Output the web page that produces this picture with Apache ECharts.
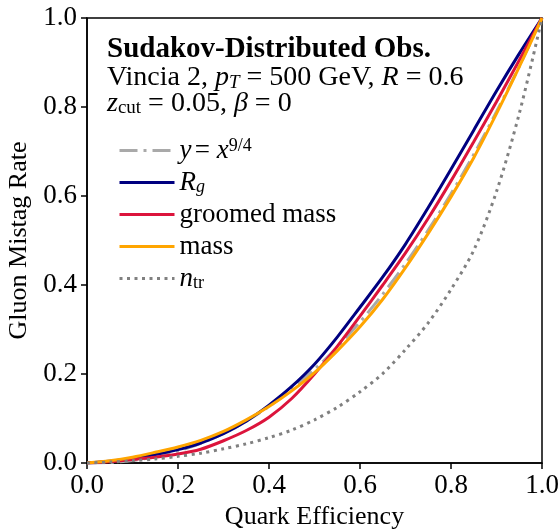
<!DOCTYPE html>
<html>
<head>
<meta charset="utf-8">
<script src="https://cdn.jsdelivr.net/npm/echarts@6/dist/echarts.min.js"></script>
<style>
  html, body { margin: 0; padding: 0; background: #fff; }
  #roc { width: 560px; height: 530px; }
</style>
</head>
<body>
<div id="roc"></div>
<script>
var effQ = [0, 0.05, 0.1, 0.15, 0.2, 0.25, 0.3, 0.35, 0.4, 0.45, 0.5, 0.55, 0.6, 0.65, 0.7, 0.75, 0.8, 0.85, 0.9, 0.95, 1.0];
var refCurve = [0, 0.0012, 0.0056, 0.0141, 0.0268, 0.0442, 0.0665, 0.094, 0.1271, 0.1658, 0.2102, 0.2606, 0.3169, 0.3795, 0.4482, 0.5234, 0.605, 0.6933, 0.7893, 0.891, 1.0];
var rgRate = [0, 0.004, 0.010, 0.019, 0.030, 0.045, 0.066, 0.094, 0.130, 0.172, 0.222, 0.283, 0.350, 0.418, 0.492, 0.574, 0.660, 0.748, 0.836, 0.920, 1.0];
var groomedRate = [0, 0.003, 0.008, 0.013, 0.020, 0.031, 0.050, 0.073, 0.103, 0.145, 0.200, 0.262, 0.330, 0.400, 0.472, 0.550, 0.634, 0.722, 0.812, 0.905, 1.0];
var massRate = [0, 0.005, 0.013, 0.024, 0.036, 0.051, 0.071, 0.097, 0.127, 0.162, 0.203, 0.252, 0.306, 0.368, 0.439, 0.516, 0.598, 0.686, 0.785, 0.890, 1.0];
var ntrRate = [0, 0.002, 0.005, 0.009, 0.015, 0.022, 0.032, 0.043, 0.057, 0.074, 0.097, 0.125, 0.160, 0.201, 0.255, 0.315, 0.390, 0.478, 0.610, 0.785, 1.0];
var tickLabels = ['0.0', '0.2', '0.4', '0.6', '0.8', '1.0'];

var serif = '"Liberation Serif", "DejaVu Serif", serif';
var fs = 27;

function pairs(ys) {
    return effQ.map(function (x, i) { return [x, ys[i]]; });
}

function richSet(size) {
    var small = Math.round(size * 0.68);
    return {
        i: { fontFamily: serif, fontSize: size, fontStyle: 'italic', color: '#000' },
        n: { fontFamily: serif, fontSize: size, color: '#000' },
        b: { fontFamily: serif, fontSize: size + 1, fontWeight: 'bold', color: '#000' },
        sub: { fontFamily: serif, fontSize: small, lineHeight: 10, verticalAlign: 'bottom', color: '#000' },
        subi: { fontFamily: serif, fontSize: small, fontStyle: 'italic', lineHeight: 10, verticalAlign: 'bottom', color: '#000' },
        sup: { fontFamily: serif, fontSize: small, lineHeight: 10, verticalAlign: 'top', color: '#000' }
    };
}
var boxRich = richSet(28);
var legRich = richSet(27);

var legendText = {
    'y=x^9/4': '{i|y} {n|= }{i|x}{sup|9/4}',
    'Rg': '{i|R}{subi|g}',
    'groomed mass': '{n|groomed mass}',
    'mass': '{n|mass}',
    'ntr': '{i|n}{sub|tr}'
};

var chart = echarts.init(document.getElementById('roc'));

var option = {
    animation: false,
    backgroundColor: '#fff',
    grid: {
        left: 87, top: 18, width: 455, height: 445,
        containLabel: false, outerBoundsMode: 'none',
        show: true, borderColor: '#000', borderWidth: 1.5, backgroundColor: 'transparent'
    },
    xAxis: {
        type: 'value', min: 0, max: 1, interval: 0.2,
        name: 'Quark Efficiency', nameLocation: 'middle', nameGap: 40,
        nameTextStyle: { fontFamily: serif, fontSize: 26, color: '#000' },
        axisLine: { lineStyle: { color: '#000', width: 1.5 } },
        axisTick: { show: true, inside: false, length: 6, lineStyle: { color: '#000', width: 1.5 } },
        axisLabel: {
            margin: 9, fontFamily: serif, fontSize: fs, color: '#000',
            formatter: function (v) { return tickLabels[Math.round(v * 5)]; }
        },
        splitLine: { show: false }
    },
    yAxis: {
        type: 'value', min: 0, max: 1, interval: 0.2,
        name: 'Gluon Mistag Rate', nameLocation: 'middle', nameGap: 52, nameRotate: 90,
        nameTextStyle: { fontFamily: serif, fontSize: 26, color: '#000' },
        axisLine: { show: true, lineStyle: { color: '#000', width: 1.5 } },
        axisTick: { show: true, inside: false, length: 6, lineStyle: { color: '#000', width: 1.5 } },
        axisLabel: {
            margin: 10, fontFamily: serif, fontSize: fs, color: '#000',
            formatter: function (v) { return tickLabels[Math.round(v * 5)]; }
        },
        splitLine: { show: false }
    },
    legend: {
        orient: 'vertical', left: 113, top: 132,
        itemWidth: 55, itemHeight: 14, itemGap: 5,
        itemStyle: { opacity: 0 },
        lineStyle: { width: 3 },
        data: ['y=x^9/4', 'Rg', 'groomed mass', 'mass', 'ntr'],
        formatter: function (name) { return legendText[name]; },
        textStyle: { padding: [0, 0, 0, 0], rich: legRich }
    },
    graphic: [
        { type: 'text', left: 107, top: 35, style: { text: '{b|Sudakov-Distributed Obs.}', rich: boxRich } },
        { type: 'text', left: 107, top: 64, style: { text: '{n|Vincia 2, }{i|p}{subi|T}{n| = 500 GeV, }{i|R}{n| = 0.6}', rich: boxRich } },
        { type: 'text', left: 107, top: 90, style: { text: '{i|z}{sub|cut}{n| = 0.05, }{i|β}{n| = 0}', rich: boxRich } }
    ],
    series: [
        {
            name: 'y=x^9/4', type: 'line', data: pairs(refCurve), symbol: 'none', smooth: 0.3,
            lineStyle: { color: '#a9a9a9', width: 3, type: [18, 6, 3, 6] },
            itemStyle: { color: '#a9a9a9' }
        },
        {
            name: 'Rg', type: 'line', data: pairs(rgRate), symbol: 'none', smooth: 0.3,
            lineStyle: { color: '#000080', width: 3 },
            itemStyle: { color: '#000080' }
        },
        {
            name: 'groomed mass', type: 'line', data: pairs(groomedRate), symbol: 'none', smooth: 0.3,
            lineStyle: { color: '#dc143c', width: 3 },
            itemStyle: { color: '#dc143c' }
        },
        {
            name: 'mass', type: 'line', data: pairs(massRate), symbol: 'none', smooth: 0.3,
            lineStyle: { color: '#ffa500', width: 3 },
            itemStyle: { color: '#ffa500' }
        },
        {
            name: 'ntr', type: 'line', data: pairs(ntrRate), symbol: 'none', smooth: 0.3,
            lineStyle: { color: '#808080', width: 3, type: [3, 4.5] },
            itemStyle: { color: '#808080' }
        }
    ]
};
chart.setOption(option);
</script>
</body>
</html>
